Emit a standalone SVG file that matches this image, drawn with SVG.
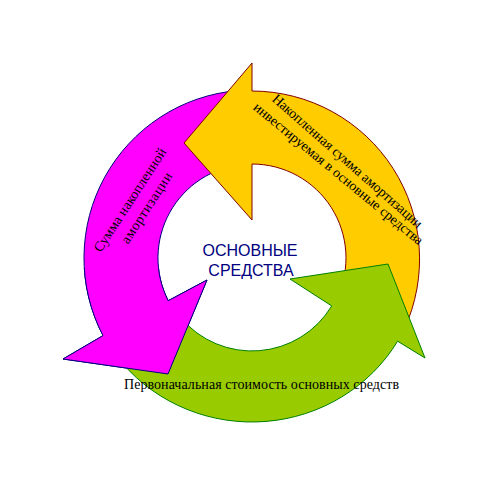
<svg xmlns="http://www.w3.org/2000/svg" xmlns:xlink="http://www.w3.org/1999/xlink" width="485" height="490" viewBox="0 0 485 490">
<style>
.ser{font-family:"Liberation Serif","Times New Roman",serif;font-size:14px;fill:#000}
.cen{font-family:"Liberation Sans",Arial,sans-serif;font-size:16px;fill:#000080}
</style>
<defs>
<clipPath id="headClip"><rect x="0" y="268" width="215" height="130"/></clipPath>
</defs>
<rect width="485" height="490" fill="#fff"/>
<g id="arrows">
<g id="magenta">
<path id="magentaShape" d="M 237.4 90.6 A 168 168 0 0 0 103.0 335.6 L 63 359 L 168 374 L 207 280 L 168.2 300.7 A 94 94 0 0 1 243.8 164.4 Z" fill="#FF00FF" stroke="#000080" stroke-width="1"/>
</g>
<g id="yellow">
<path d="M 404.3 329.0 A 168 168 0 0 0 252 91 L 252 63 L 184 143 L 252 220 L 252 164 A 94 94 0 0 1 337.2 297.7 Z" fill="#FFCC00" stroke="#800000" stroke-width="1"/>
</g>
<g id="green">
<path d="M 122.5 363.4 A 169 164 0 0 0 397.6 341.2 L 425 358 L 388 264 L 290 279 L 331.7 305.9 A 93 93 0 0 1 180.8 317.8 Z" fill="#99CC00" stroke="#008000" stroke-width="1"/>
</g>
<use xlink:href="#magentaShape" href="#magentaShape" clip-path="url(#headClip)"/>
</g>
<g id="labels">
<text class="ser" transform="translate(133.9,202.4) rotate(-56.9)" text-anchor="middle" textLength="121" lengthAdjust="spacing">Сумма накопленной</text>
<text class="ser" transform="translate(150.4,210.4) rotate(-57)" text-anchor="middle" textLength="82" lengthAdjust="spacing">амортизации</text>
<text class="ser" transform="translate(344.4,164.5) rotate(41.3)" text-anchor="middle" textLength="195" lengthAdjust="spacing">Накопленная сумма амортизации</text>
<text class="ser" transform="translate(335.5,177.1) rotate(39.5)" text-anchor="middle" textLength="215" lengthAdjust="spacing">инвестируемая в основные средства</text>
<text class="ser" x="261.5" y="389" text-anchor="middle" textLength="275" lengthAdjust="spacing">Первоначальная стоимость основных средств</text>
<text class="cen" x="250" y="256" text-anchor="middle">ОСНОВНЫЕ</text>
<text class="cen" x="251" y="276" text-anchor="middle">СРЕДСТВА</text>
</g>
</svg>
